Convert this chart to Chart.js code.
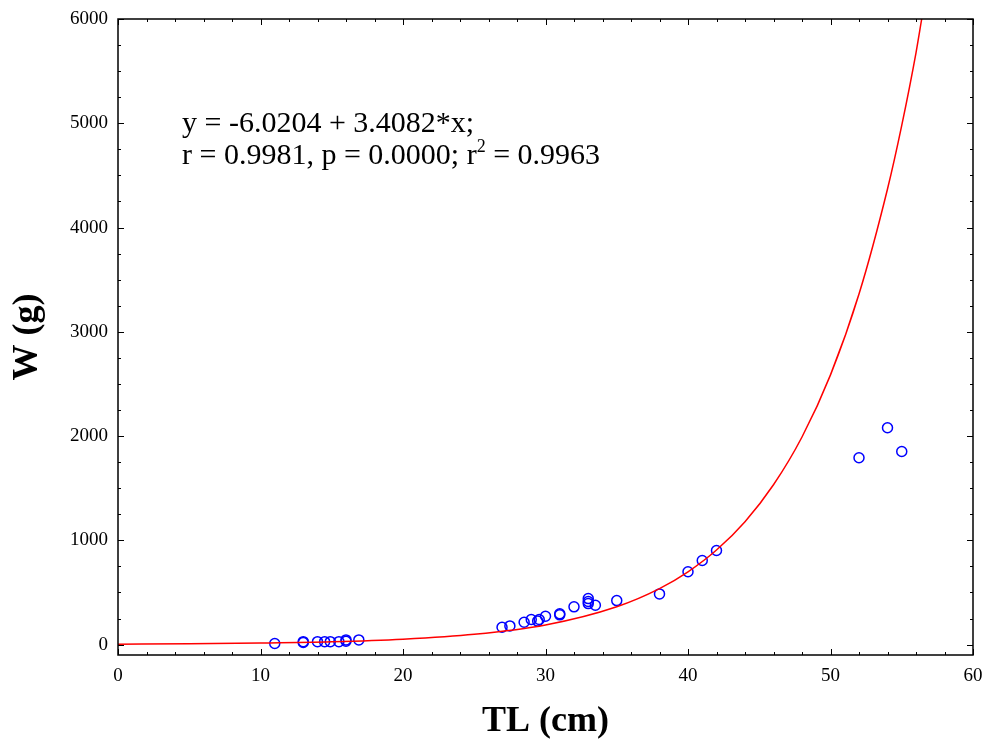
<!DOCTYPE html>
<html>
<head>
<meta charset="utf-8">
<script src="https://cdn.jsdelivr.net/npm/chart.js@4.4.1/dist/chart.umd.min.js"></script>
<style>
  body { margin: 0; background: #fff; }
  #wrap { width: 987px; height: 744px; }
</style>
</head>
<body>
<div id="wrap"><canvas id="lw" width="987" height="744"></canvas></div>
<script>
// observed fish: total length (cm) and weight (g)
const lengthTL = [11, 13, 13, 14, 14.5, 14.9, 15.5, 16, 16, 16.9,
    26.95, 27.5, 28.5, 29, 29.45, 29.56, 30, 31, 31, 32, 33, 33, 33, 33.5, 35, 38,
    40, 41, 42, 52, 54, 55];
const weightW = [10, 20, 28, 28, 28, 28, 28, 32, 45, 45,
    166, 179, 214, 240, 225, 240, 272, 295, 285, 362, 441, 413, 393, 377, 422, 486,
    698, 806, 902, 1792, 2080, 1852];

// fitted curve
const curveTL = [0, 5, 10, 15, 20, 25, 30, 35, 38, 40, 42, 44, 46, 48, 50, 52, 54, 55, 56, 56.4];
const curveW = [4, 7, 14, 26, 51, 98, 188, 363, 537, 698, 907, 1179, 1533, 1991, 2587, 3362, 4370, 4980, 5676, 6000];

const xTicks = [0, 10, 20, 30, 40, 50, 60];
const yTicks = [0, 1000, 2000, 3000, 4000, 5000, 6000];

const serif = '"Liberation Serif", "Times New Roman", serif';

const frameAndText = {
    id: 'frameAndText',
    afterDatasetsDraw(chart) {
        const ctx = chart.ctx;
        const a = chart.chartArea;
        const xs = chart.scales.x, ys = chart.scales.y;
        ctx.save();
        ctx.strokeStyle = '#000';
        ctx.lineWidth = 1.5;
        ctx.strokeRect(a.left, a.top, a.right - a.left, a.bottom - a.top);
        ctx.lineWidth = 1;
        ctx.beginPath();
        for (let v = 0; v <= 60; v += 2) {
            const px = Math.round(xs.getPixelForValue(v)) + 0.5;
            const len = v % 10 === 0 ? 6 : 3;
            ctx.moveTo(px, a.bottom); ctx.lineTo(px, a.bottom - len);
            ctx.moveTo(px, a.top); ctx.lineTo(px, a.top + len);
        }
        for (let v = 0; v <= 6000; v += 250) {
            const py = Math.round(ys.getPixelForValue(v)) + 0.5;
            const len = v % 1000 === 0 ? 6 : 3;
            ctx.moveTo(a.left, py); ctx.lineTo(a.left + len, py);
            ctx.moveTo(a.right, py); ctx.lineTo(a.right - len, py);
        }
        ctx.stroke();

        // regression text
        ctx.fillStyle = '#000';
        ctx.font = '30px ' + serif;
        ctx.textBaseline = 'alphabetic';
        ctx.textAlign = 'left';
        ctx.fillText('y = -6.0204 + 3.4082*x;', 182, 132);
        let x0 = 182;
        const part1 = 'r = 0.9981, p = 0.0000; r';
        ctx.fillText(part1, x0, 164);
        x0 += ctx.measureText(part1).width;
        ctx.font = '18px ' + serif;
        ctx.fillText('2', x0, 152);
        x0 += ctx.measureText('2').width;
        ctx.font = '30px ' + serif;
        ctx.fillText(' = 0.9963', x0, 164);

        // axis titles
        ctx.font = 'bold 36px ' + serif;
        ctx.textAlign = 'center';
        ctx.textBaseline = 'middle';
        ctx.fillText('TL (cm)', (a.left + a.right) / 2, 722);
        ctx.translate(28, (a.top + a.bottom) / 2);
        ctx.rotate(-Math.PI / 2);
        ctx.fillText('W (g)', 0, 0);
        ctx.restore();
    }
};

new Chart(document.getElementById('lw').getContext('2d'), {
    type: 'scatter',
    data: {
        datasets: [{
            type: 'line',
            label: 'fit',
            data: curveTL.map((v, i) => ({x: v, y: curveW[i]})),
            borderColor: '#ff0000',
            borderWidth: 1.5,
            pointRadius: 0,
            cubicInterpolationMode: 'monotone',
            fill: false
        }, {
            label: 'W',
            data: lengthTL.map((v, i) => ({x: v, y: weightW[i]})),
            pointRadius: 5,
            pointHoverRadius: 5,
            pointBorderWidth: 1.5,
            borderColor: '#0000ff',
            backgroundColor: 'rgba(0,0,0,0)'
        }]
    },
    options: {
        responsive: false,
        animation: false,
        layout: { padding: { top: 19, right: 14, left: 0, bottom: 0 } },
        plugins: { legend: { display: false }, tooltip: { enabled: false } },
        scales: {
            x: {
                type: 'linear',
                min: 0, max: 60,
                afterBuildTicks: s => { s.ticks = xTicks.map(v => ({value: v})); },
                afterFit: s => { s.height = 89; s.paddingLeft = 0; s.paddingRight = 0; },
                grid: { display: false, drawTicks: false },
                border: { display: false },
                ticks: { color: '#000', padding: 10, font: { family: serif, size: 19 }, maxRotation: 0,
                    callback: v => String(v) }
            },
            y: {
                type: 'linear',
                min: -100, max: 6000,
                afterBuildTicks: s => { s.ticks = yTicks.map(v => ({value: v})); },
                afterFit: s => { s.width = 118; s.paddingTop = 0; s.paddingBottom = 0; },
                grid: { display: false, drawTicks: false },
                border: { display: false },
                ticks: { color: '#000', padding: 10, font: { family: serif, size: 19 },
                    callback: v => String(v) }
            }
        }
    },
    plugins: [frameAndText]
});
</script>
</body>
</html>
